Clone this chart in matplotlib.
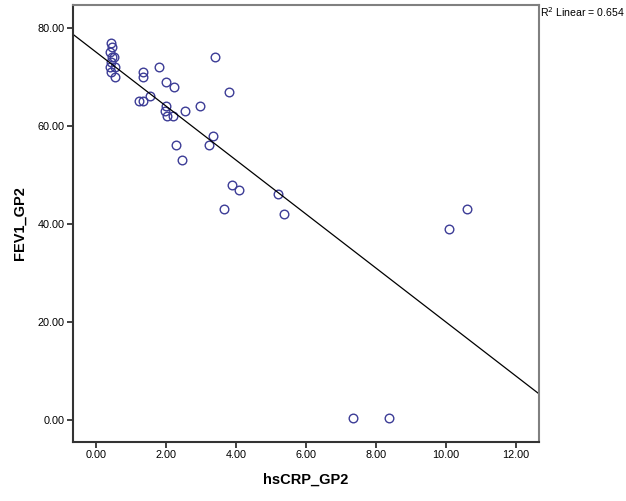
import matplotlib
matplotlib.use("Agg")
import matplotlib.pyplot as plt
import numpy as np

# hsCRP_GP2 vs FEV1_GP2
hscrp = [0.44, 0.46, 0.40, 0.46, 0.52, 0.44, 0.54, 0.40, 0.42, 0.55,
         3.39, 1.79, 1.34, 1.33, 1.99, 2.22, 3.81, 1.53, 1.22, 1.33,
         1.99, 1.97, 2.04, 2.20, 2.55, 2.96, 3.34, 3.24, 2.28, 2.47,
         3.89, 4.10, 5.19, 3.65, 5.38, 10.59, 10.09, 7.34, 8.36]
fev1 = [77, 76, 75, 74, 74, 73, 72, 72, 71, 70,
        74, 72, 71, 70, 69, 68, 67, 66, 65, 65,
        64, 63, 62, 62, 63, 64, 58, 56, 56, 53,
        48, 47, 46, 43, 42, 43, 39, 0.5, 0.5]

x_ticks = [0, 2, 4, 6, 8, 10, 12]
y_ticks = [0, 20, 40, 60, 80]

plt.rcParams['font.family'] = ['Liberation Sans', 'DejaVu Sans']

fig = plt.figure(figsize=(6.26, 5.01), dpi=100)
ax = fig.add_axes([73 / 626, 1 - 441.7 / 501, (539 - 73) / 626, (441.7 - 5) / 501])

ax.plot(hscrp, fev1, 'o', ls='none', mfc='none', mec='#3c3c96', mew=1.0, ms=6.2)

# linear fit line across the whole plot
xlo, xhi = -0.657, 12.66
slope, icpt = np.polyfit(hscrp, fev1, 1)
xs = np.array([xlo, xhi])
ax.plot(xs, slope * xs + icpt, color='black', lw=0.9)

ax.set_xlim(xlo, xhi)
ax.set_ylim(-4.43, 84.65)
ax.set_xticks(x_ticks)
ax.set_yticks(y_ticks)
ax.set_xticklabels(['%.2f' % v for v in x_ticks], fontsize=7.8)
ax.set_yticklabels(['%.2f' % v for v in y_ticks], fontsize=7.8)
ax.tick_params(direction='out', length=4.5, width=1.3, color='#333333', pad=1.5)

for s in ['left', 'bottom']:
    ax.spines[s].set_color('#333333')
    ax.spines[s].set_linewidth(1.5)
for s in ['top', 'right']:
    ax.spines[s].set_color('#808080')
    ax.spines[s].set_linewidth(1.5)

ax.set_xlabel('hsCRP_GP2', fontsize=10.5, fontweight='bold', labelpad=9)
ax.set_ylabel('FEV1_GP2', fontsize=10.5, fontweight='bold', labelpad=8)

fig.text(540 / 626, 1 - 5 / 501, r'R$^2$ Linear = 0.654', fontsize=7.6,
         ha='left', va='top')

fig.savefig('out.png', dpi=100)
